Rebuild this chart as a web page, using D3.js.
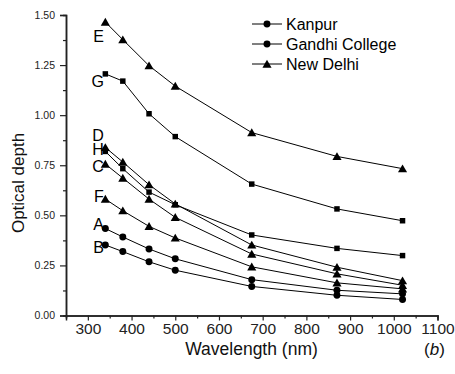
<!DOCTYPE html>
<html>
<head>
<meta charset="utf-8">
<script src="https://cdn.jsdelivr.net/npm/d3@7"></script>
<style>
  body { margin: 0; background: #fff; }
  svg { display: block; font-family: "Liberation Sans", Arial, sans-serif; }
</style>
</head>
<body>
<div id="chart"></div>
<script>
// wavelengths (nm)
const wavelengths = [340, 380, 440, 500, 675, 870, 1020]

// series
const seriesNames = ["E", "G", "D", "H", "C", "F", "A", "B"]
const seriesShapes = ["triangle", "square", "triangle", "square", "triangle", "triangle", "circle", "circle"]
const valuesE = [1.465, 1.377, 1.247, 1.145, 0.913, 0.794, 0.733]
const valuesG = [1.206, 1.170, 1.007, 0.893, 0.656, 0.532, 0.473]
const valuesD = [0.839, 0.766, 0.653, 0.557, 0.352, 0.241, 0.174]
const valuesH = [0.819, 0.733, 0.616, 0.553, 0.402, 0.335, 0.299]
const valuesC = [0.756, 0.686, 0.581, 0.490, 0.307, 0.208, 0.151]
const valuesF = [0.581, 0.523, 0.445, 0.387, 0.243, 0.163, 0.133]
const valuesA = [0.434, 0.392, 0.332, 0.283, 0.179, 0.126, 0.108]
const valuesB = [0.352, 0.319, 0.268, 0.226, 0.145, 0.101, 0.080]
const seriesValues = [valuesE, valuesG, valuesD, valuesH, valuesC, valuesF, valuesA, valuesB]

// legend
const legendNames = ["Kanpur", "Gandhi College", "New Delhi"]
const legendShapes = ["circle", "circle", "triangle"]

// ticks
const xTicks = [300, 400, 500, 600, 700, 800, 900, 1000, 1100]
const xMinorTicks = [250, 350, 450, 550, 650, 750, 850, 950, 1050]
const yTicks = [0, 0.25, 0.5, 0.75, 1.0, 1.25, 1.5]
const yMinorTicks = [0.125, 0.375, 0.625, 0.875, 1.125, 1.375]

// label offsets next to first point (px)
const labelDy = {E: 20, G: 13, D: -6, H: 3.5, C: 7.5, F: 3, A: 1, B: 8}

const width = 455
const height = 374

const svg = d3.select("#chart").append("svg")
              .attr("width", width)
              .attr("height", height)

// scales
const xScale = d3.scaleLinear().domain([250, 1100]).range([66, 437.5])
const yScale = d3.scaleLinear().domain([0, 1.5]).range([315.5, 15])

const symbolFor = {
    triangle: d3.symbol().type(d3.symbolTriangle).size(36),
    square: d3.symbol().type(d3.symbolSquare).size(30),
    circle: d3.symbol().type(d3.symbolCircle).size(38)
}

// axes
const axisColor = "#222"
const yAxis = svg.append("g")
                 .attr("transform", `translate(${xScale.range()[0]}, 0)`)
                 .call(d3.axisLeft(yScale).tickValues(yTicks).tickSize(6).tickPadding(5)
                          .tickFormat(d3.format(".2f")))
yAxis.selectAll("text").attr("font-size", "10.5px").attr("fill", axisColor)
svg.append("g")
   .attr("transform", `translate(${xScale.range()[0]}, 0)`)
   .call(d3.axisLeft(yScale).tickValues(yMinorTicks).tickSize(3).tickFormat(""))

const xAxis = svg.append("g")
                 .attr("transform", `translate(0, ${yScale.range()[0]})`)
                 .call(d3.axisBottom(xScale).tickValues(xTicks).tickSize(5).tickPadding(2)
                          .tickFormat(d3.format("d")))
xAxis.selectAll("text").attr("font-size", "15.5px").attr("fill", axisColor)
svg.append("g")
   .attr("transform", `translate(0, ${yScale.range()[0]})`)
   .call(d3.axisBottom(xScale).tickValues(xMinorTicks).tickSize(3).tickFormat(""))

svg.selectAll(".domain").attr("stroke", axisColor).attr("stroke-width", 1.5)
svg.selectAll(".tick line").attr("stroke", axisColor).attr("stroke-width", 1.2)

// axis titles
svg.append("text")
   .attr("x", 251.5)
   .attr("y", 355)
   .attr("text-anchor", "middle")
   .attr("font-size", "17.5px")
   .attr("fill", "#111")
   .text("Wavelength (nm)")
svg.append("text")
   .attr("x", 424)
   .attr("y", 355)
   .attr("font-size", "17px")
   .attr("fill", "#111")
   .html("(<tspan font-style='italic'>b</tspan>)")
svg.append("text")
   .attr("transform", "translate(24, 183) rotate(-90)")
   .attr("text-anchor", "middle")
   .attr("font-size", "17px")
   .attr("fill", "#111")
   .text("Optical depth")

// lines and markers
const line = d3.line()
               .x((d, i) => xScale(wavelengths[i]))
               .y(d => yScale(d))

seriesValues.forEach((vals, s) => {
    const g = svg.append("g")
    g.append("path")
     .attr("d", line(vals))
     .attr("fill", "none")
     .attr("stroke", "#000")
     .attr("stroke-width", 1)
    g.selectAll("path.pt")
     .data(vals)
     .join("path")
     .attr("class", "pt")
     .attr("transform", (d, i) => `translate(${xScale(wavelengths[i])}, ${yScale(d) + (seriesShapes[s] === "triangle" ? 1 : 0)})`)
     .attr("d", symbolFor[seriesShapes[s]]())
     .attr("fill", "#000")
    const name = seriesNames[s]
    g.append("text")
     .attr("x", xScale(wavelengths[0]) - 1.5)
     .attr("y", yScale(vals[0]) + labelDy[name])
     .attr("text-anchor", "end")
     .attr("font-size", "16px")
     .attr("fill", "#000")
     .text(name)
})

// legend
const legend = svg.append("g").attr("transform", "translate(252, 24)")
legendNames.forEach((name, i) => {
    const row = legend.append("g").attr("transform", `translate(0, ${i * 20})`)
    row.append("line")
       .attr("x1", 0).attr("x2", 30)
       .attr("y1", 0).attr("y2", 0)
       .attr("stroke", "#000")
       .attr("stroke-width", 1)
    row.append("path")
       .attr("transform", `translate(15, ${legendShapes[i] === "triangle" ? 1 : 0})`)
       .attr("d", symbolFor[legendShapes[i]]())
       .attr("fill", "#000")
    row.append("text")
       .attr("x", 34)
       .attr("y", 0)
       .attr("dy", "0.35em")
       .attr("font-size", "16px")
       .attr("fill", "#000")
       .text(name)
})
</script>
</body>
</html>
